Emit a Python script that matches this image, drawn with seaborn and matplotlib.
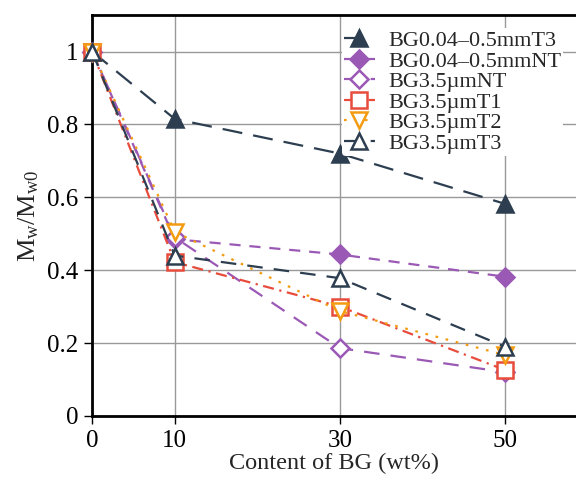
import numpy as np
import pandas as pd
import matplotlib; matplotlib.use("Agg")
import matplotlib.pyplot as plt
import seaborn as sns

# content of BG (wt%)
content = [0, 10, 30, 50]
# Mw/Mw0 per sample
bg_mm_t3 = [1.0, 0.815, 0.72, 0.582]
bg_mm_nt = [1.0, 0.485, 0.443, 0.382]
bg_um_nt = [1.0, 0.49, 0.186, 0.12]
bg_um_t1 = [1.0, 0.422, 0.30, 0.126]
bg_um_t2 = [1.0, 0.505, 0.288, 0.167]
bg_um_t3 = [1.0, 0.44, 0.378, 0.19]
labels = ["BG0.04\u20130.5mmT3", "BG0.04\u20130.5mmNT", "BG3.5\u00b5mNT",
          "BG3.5\u00b5mT1", "BG3.5\u00b5mT2", "BG3.5\u00b5mT3"]
xticks = [0, 10, 30, 50]
yticks = [0, 0.2, 0.4, 0.6, 0.8, 1]

NAVY = "#2c3e50"; PURPLE = "#9b59b6"; RED = "#e74c3c"; YEL = "#f39c12"
styles = [
    dict(color=NAVY, marker="^", mfc=NAVY, ms=11, dashes=(9, 5)),
    dict(color=PURPLE, marker="D", mfc=PURPLE, ms=9, dashes=(5, 4)),
    dict(color=PURPLE, marker="D", mfc="white", ms=9, dashes=(7, 5)),
    dict(color=RED, marker="s", mfc="white", ms=12, dashes=(5, 2.5, 1, 2.5)),
    dict(color=YEL, marker="v", mfc="white", ms=11, dashes=(1.2, 3.5)),
    dict(color=NAVY, marker="^", mfc="white", ms=11, dashes=(7, 5)),
]

sns.set_style("white")
plt.rcParams["font.family"] = ["Liberation Serif", "DejaVu Serif"]
plt.rcParams["mathtext.fontset"] = "custom"
plt.rcParams["mathtext.rm"] = "Liberation Serif"
plt.rcParams["mathtext.it"] = "Liberation Serif:italic"

fig, ax = plt.subplots(figsize=(5.76, 4.87), dpi=100)
fig.subplots_adjust(left=0.16, right=1.0, top=0.969, bottom=0.146)

series = [bg_mm_t3, bg_mm_nt, bg_um_nt, bg_um_t1, bg_um_t2, bg_um_t3]
for vals, lab, st in zip(series, labels, styles):
    df = pd.DataFrame({"x": content, "y": vals})
    sns.lineplot(data=df, x="x", y="y", ax=ax, label=lab, color=st["color"],
                 marker=st["marker"], markersize=st["ms"], markerfacecolor=st["mfc"],
                 markeredgecolor=st["color"], markeredgewidth=1.8, linewidth=1.6,
                 dashes=st["dashes"], clip_on=False, zorder=3)

ax.set_xlim(0, 58.6)
ax.set_ylim(0, 1.1)
ax.set_xticks(xticks)
ax.set_yticks(yticks)
ax.set_yticklabels([f"{v:g}" for v in yticks])
ax.grid(True, color="#999999", linewidth=1.0)
ax.set_axisbelow(True)
for s in ["left", "bottom", "top"]:
    ax.spines[s].set_color("black"); ax.spines[s].set_linewidth(2)
ax.spines["right"].set_visible(False)
ax.tick_params(axis="both", direction="out", length=6, width=1, labelsize=18,
               colors="black", left=True, bottom=True, pad=4)
ax.set_xlabel("Content of BG (wt%)", fontsize=17.5, labelpad=1)
ax.set_ylabel(r"$\mathrm{M_w/M_{w0}}$", fontsize=19, labelpad=4)

leg = ax.legend(loc="upper right", bbox_to_anchor=(0.997, 0.995), frameon=True,
                fontsize=16, handlelength=1.4, labelspacing=0.0, borderpad=0.1,
                handletextpad=0.6)
leg.get_frame().set_edgecolor("none")
leg.get_frame().set_facecolor("white")
leg.get_frame().set_alpha(1)

plt.savefig("out.png", dpi=100)
plt.close()
